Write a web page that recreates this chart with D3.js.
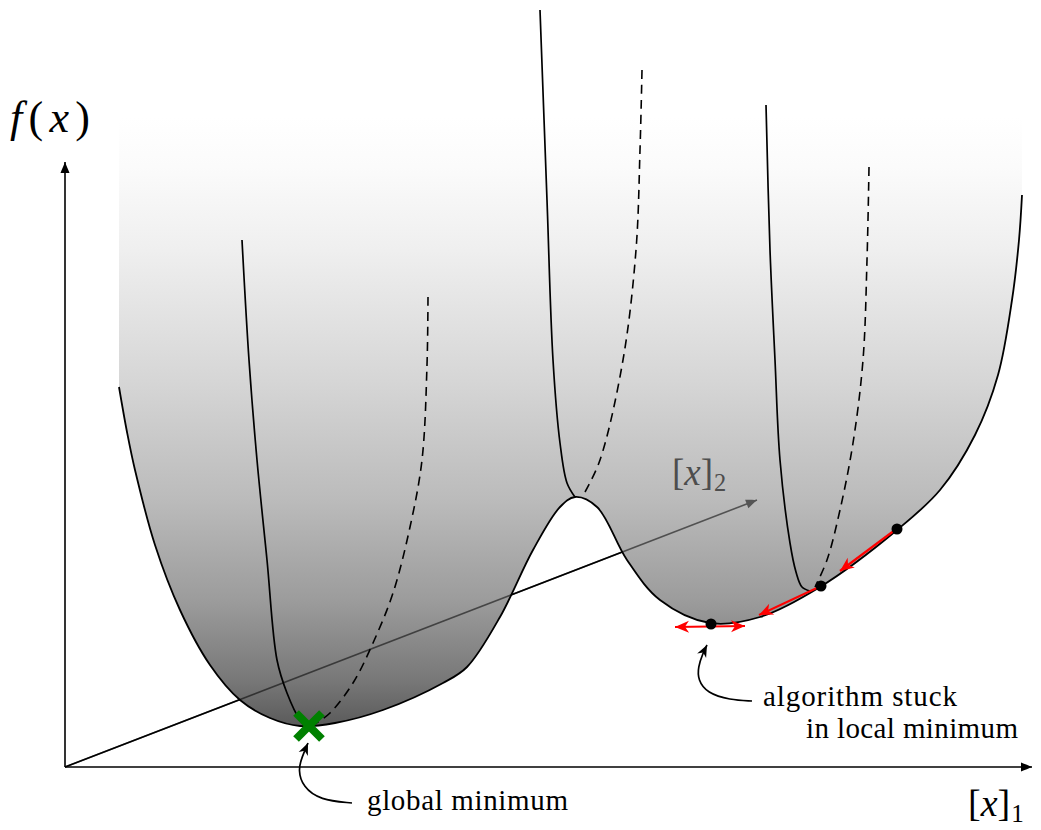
<!DOCTYPE html>
<html>
<head>
<meta charset="utf-8">
<script src="https://cdnjs.cloudflare.com/ajax/libs/d3/7.8.5/d3.min.js"></script>
<style>
  body { margin: 0; background: #fff; }
  svg { display: block; }
  svg text { font-family: "Liberation Serif", "DejaVu Serif", "Noto Serif", Tinos, FreeSerif, "Times New Roman", Times, serif; }
</style>
</head>
<body>
<div id="chart"></div>
<script>
// diagram units: offsets from the axis origin (u to the right, v = f upward)
const frontCurve = [[54,380],[62,335],[70,297],[90,222],[115,157],[145,102],[175,67],[205,49],[235,41],[270,44],[318,57],[378,84],[402,100],[435,150],[468,217],[495,260],[510,270],[532,260],[562,207],[595,167],[645,144],[695,150],[755,180],[832,237],[875,277],[910,332],[933,392],[947,467],[954,527],[957,572]];
const surfaceTop = 700;

const solidLines = [
  [[177,527],[184,407],[192,307],[202,207],[212,107],[222,74],[235,47],[242,40]],
  [[475,757],[482,567],[488,407],[495,324],[502,284],[510,270]],
  [[701,662],[705,517],[710,407],[715,307],[725,224],[731,195],[737,180],[745,176]]
];
const dashedLines = [
  [[363,470],[362,402],[357,307],[345,240],[328,174],[308,124],[288,84],[265,54],[250,43]],
  [[577,697],[575,617],[571,517],[558,407],[535,307],[520,275]],
  [[804,600],[802,507],[798,407],[788,324],[775,257],[762,207],[750,180]]
];

const steps = [[832,238],[756,181],[646,143]];
const stepArrows = [[[830,237],[775,196]], [[754,180],[694,152]]];
const stuckArrow = [[610,140],[680,141]];
const globalMin = [244,41];

const xAxisEnd = [967,0], yAxisEnd = [0,605], x2AxisEnd = [692,267];

const globalNote = [[287,-36],[255,-33],[238,-20],[233,-3],[237,10],[243,24]];
const localNote = [[687,66],[665,67],[642,74],[633,87],[633,100],[638,114],[642,122]];

const labels = {
  fx: [-55,635], x2: [607,282], x1: [903,-49],
  globalText: [302,-43], stuck1: [698,61], stuck2: [741,29]
};

// shade of the surface by height v
const shadeStops = [[700,'#ffffff'],[650,'#ffffff'],[600,'#fbfbfb'],[517,'#efefef'],[382,'#d5d5d5'],[267,'#bbbbbb'],[167,'#9c9c9c'],[87,'#787878'],[40,'#5a5a5a']];

const W = 1041, H = 830;
const x = d3.scaleLinear().domain([0, 967]).range([65, 1032]);
const y = d3.scaleLinear().domain([0, 605]).range([767, 162]);

const svg = d3.select('#chart').append('svg').attr('width', W).attr('height', H);
const defs = svg.append('defs');

const y0 = y(shadeStops[0][0]), y1 = y(shadeStops[shadeStops.length - 1][0]);
const grad = defs.append('linearGradient').attr('id', 'shade')
  .attr('gradientUnits', 'userSpaceOnUse')
  .attr('x1', 0).attr('x2', 0).attr('y1', y0).attr('y2', y1);
shadeStops.forEach(s => {
  grad.append('stop').attr('offset', (y(s[0]) - y0) / (y1 - y0)).attr('stop-color', s[1]);
});

function marker(id, d, color, w, h) {
  defs.append('marker').attr('id', id)
    .attr('markerUnits', 'userSpaceOnUse')
    .attr('viewBox', `${-w} ${-h / 2} ${w + 1} ${h}`)
    .attr('refX', 0).attr('refY', 0)
    .attr('markerWidth', w + 1).attr('markerHeight', h)
    .attr('orient', 'auto-start-reverse')
    .append('path').attr('d', d).attr('fill', color);
}
marker('latex', 'M0,0 C-3,-1.2 -7,-3 -11,-4.5 L-11,4.5 C-7,3 -3,1.2 0,0Z', '#000', 12, 10);
marker('latexGray', 'M0,0 C-3,-1.2 -7,-3 -11,-4.5 L-11,4.5 C-7,3 -3,1.2 0,0Z', '#555', 12, 10);
marker('stealthRed', 'M0,0 L-14,-6 L-10,0 L-14,6Z', '#f00', 15, 13);
marker('stealth', 'M0,0 L-12,-5 L-8.5,0 L-12,5Z', '#000', 13, 11);

const smooth = d3.line().x(d => x(d[0])).y(d => y(d[1])).curve(d3.curveCatmullRom.alpha(0.5));
const straight = d3.line().x(d => x(d[0])).y(d => y(d[1]));

// axes
svg.append('path').attr('d', straight([[0,0], yAxisEnd])).attr('stroke', '#000').attr('stroke-width', 1.6)
  .attr('fill', 'none').attr('marker-end', 'url(#latex)');
svg.append('path').attr('d', straight([[0,0], xAxisEnd])).attr('stroke', '#000').attr('stroke-width', 1.6)
  .attr('fill', 'none').attr('marker-end', 'url(#latex)');
svg.append('path').attr('d', straight([[0,0], x2AxisEnd])).attr('stroke', '#000').attr('stroke-width', 1.6)
  .attr('fill', 'none');

// surface
const surfacePath = smooth(frontCurve) +
  'L' + x(frontCurve[frontCurve.length - 1][0]) + ',' + y(surfaceTop) +
  'L' + x(frontCurve[0][0]) + ',' + y(surfaceTop) + 'Z';
svg.append('path').attr('d', surfacePath).attr('fill', 'url(#shade)');
svg.append('path').attr('d', smooth(frontCurve)).attr('fill', 'none').attr('stroke', '#000').attr('stroke-width', 1.8);

svg.selectAll('.solid').data(solidLines).enter().append('path')
  .attr('class', 'solid').attr('d', smooth).attr('fill', 'none')
  .attr('stroke', '#000').attr('stroke-width', 1.7);
svg.selectAll('.dashed').data(dashedLines).enter().append('path')
  .attr('class', 'dashed').attr('d', smooth).attr('fill', 'none')
  .attr('stroke', '#000').attr('stroke-width', 1.6).attr('stroke-dasharray', '9,6');

// [x]2 axis seen through the surface
svg.append('path').attr('d', straight([[0,0], x2AxisEnd])).attr('stroke', '#000').attr('stroke-opacity', 0.55)
  .attr('stroke-width', 1.6).attr('fill', 'none').attr('marker-end', 'url(#latexGray)');

// step arrows
svg.selectAll('.step').data(stepArrows).enter().append('path')
  .attr('class', 'step').attr('d', straight).attr('stroke', '#f00').attr('stroke-width', 2.2)
  .attr('fill', 'none').attr('marker-end', 'url(#stealthRed)');
svg.append('path').attr('d', straight(stuckArrow)).attr('stroke', '#f00').attr('stroke-width', 2.2)
  .attr('fill', 'none').attr('marker-end', 'url(#stealthRed)').attr('marker-start', 'url(#stealthRed)');
svg.selectAll('.dot').data(steps).enter().append('circle')
  .attr('cx', d => x(d[0])).attr('cy', d => y(d[1])).attr('r', 5.5).attr('fill', '#000');

// global minimum marker
svg.append('path').attr('d', d3.symbol(d3.symbolX, 440)())
  .attr('transform', `translate(${x(globalMin[0])},${y(globalMin[1])})`)
  .attr('fill', 'none').attr('stroke', '#008000').attr('stroke-width', 8);

// annotations
const curvy = d3.line().x(d => x(d[0])).y(d => y(d[1])).curve(d3.curveBasis);
[globalNote, localNote].forEach(pts => {
  svg.append('path').attr('d', curvy(pts)).attr('fill', 'none').attr('stroke', '#000')
    .attr('stroke-width', 1.7).attr('marker-end', 'url(#stealth)');
});

function plain(pos, str, len) {
  svg.append('text').attr('x', x(pos[0])).attr('y', y(pos[1]))
    .attr('font-size', 29).attr('textLength', len).attr('lengthAdjust', 'spacing').text(str);
}
plain(labels.globalText, 'global minimum', 201);
plain(labels.stuck1, 'algorithm stuck', 194);
plain(labels.stuck2, 'in local minimum', 212);

// math labels
const fx = svg.append('text').attr('x', x(labels.fx[0])).attr('y', y(labels.fx[1]))
  .attr('font-size', 44).attr('textLength', 80).attr('lengthAdjust', 'spacing');
fx.append('tspan').attr('font-style', 'italic').text('f');
fx.append('tspan').text('(');
fx.append('tspan').attr('font-style', 'italic').text('x');
fx.append('tspan').text(')');

function bracketLabel(pos, sub, size, color) {
  const t = svg.append('text').attr('x', x(pos[0])).attr('y', y(pos[1]))
    .attr('font-size', size).attr('fill', color);
  t.append('tspan').text('[');
  t.append('tspan').attr('font-style', 'italic').text('x');
  t.append('tspan').text(']');
  t.append('tspan').attr('font-size', size * 0.66).attr('dy', size * 0.15).attr('dx', 1).text(sub);
}
bracketLabel(labels.x2, '2', 37, '#4d4d4d');
bracketLabel(labels.x1, '1', 38, '#000');
</script>
</body>
</html>
